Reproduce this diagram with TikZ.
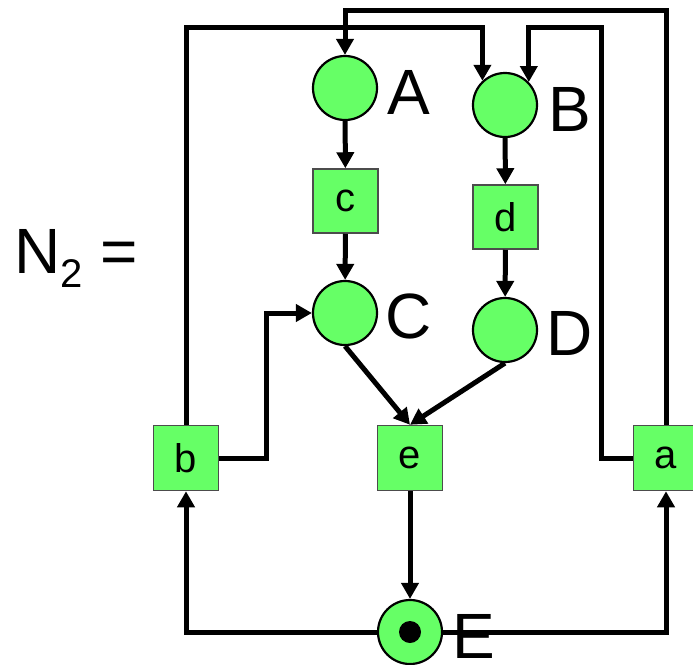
\documentclass[tikz,border=0pt]{standalone}
\usepackage{fontspec}
\setmainfont{Liberation Sans}
\usetikzlibrary{arrows.meta}
\definecolor{pg}{HTML}{66FF66}
\tikzset{
  place/.style={circle,draw=black,line width=2.2pt,fill=pg,minimum size=64pt,inner sep=0pt},
  trans/.style={rectangle,draw=black!70,line width=1.5pt,fill=pg,minimum width=65pt,minimum height=64pt,inner sep=0pt,font=\fontsize{40}{40}\selectfont},
  lbl/.style={font=\fontsize{64}{64}\selectfont,inner sep=0pt},
  arc/.style={line width=5pt,-{Triangle[length=16pt,width=17pt]}},
  tok/.style={circle,fill=black,minimum size=22pt,inner sep=0pt}
}
\begin{document}
\begin{tikzpicture}[x=1pt,y=-1pt]
\useasboundingbox (0,0) rectangle (693,664);
% places
\node[place] (A) at (345,88) {};
\node[place] (B) at (505,105) {};
\node[place] (C) at (345,313) {};
\node[place] (D) at (505,330) {};
% transitions
\node[trans] (c) at (345.5,201) {c};
\node[trans] (d) at (505.5,217) {d};
\node[trans,minimum height=65pt] (b) at (186,458) {b};
\node[trans,minimum height=65pt] (e) at (410,458) {e};
\node[trans,minimum height=65pt] (a) at (666,458) {a};
% labels
\node[lbl] (lA) at (409,92) {A};
\node[lbl] (lB) at (570,109) {B};
\node[lbl] (lC) at (409,316) {C};
\node[lbl] (lD) at (570,333) {D};
\node[lbl] (lE) at (474,636) {E};
\node[lbl,anchor=base west] (N2) at (14,273) {N\raisebox{-14pt}{\fontsize{40}{40}\selectfont 2} =};
% helper coordinates
\coordinate (t0) at (0,10);
\coordinate (t1) at (0,27);
\coordinate (k1) at (601,27);
\coordinate (k2) at (266,313);
\coordinate (eC) at (410,632);
% arcs
\draw[arc] (A) -- (c);
\draw[arc] (c) -- (C);
\draw[arc] (B) -- (d);
\draw[arc] (d) -- (D);
\draw[arc] (C.south) -- (e.north);
\draw[arc] (D.south) -- (e.north);
\draw[arc] (b.east) -| (k2) -- (C.west);
\draw[arc] (b.north) |- (B.133 |- t1) -- (B.133);
\draw[arc] (a.north) |- (A.north |- t0) -- (A.north);
\draw[arc] (a.west) -| (k1) -| (B.44);
\draw[arc] (eC) -| (b.south);
\draw[arc] (eC) -| (a.south);
% place E on top of the lines
\node[place] (E) at (410,632) {};
\node[tok] (tokE) at (410,632) {};
\draw[arc] (e) -- (E);
\end{tikzpicture}
\end{document}
